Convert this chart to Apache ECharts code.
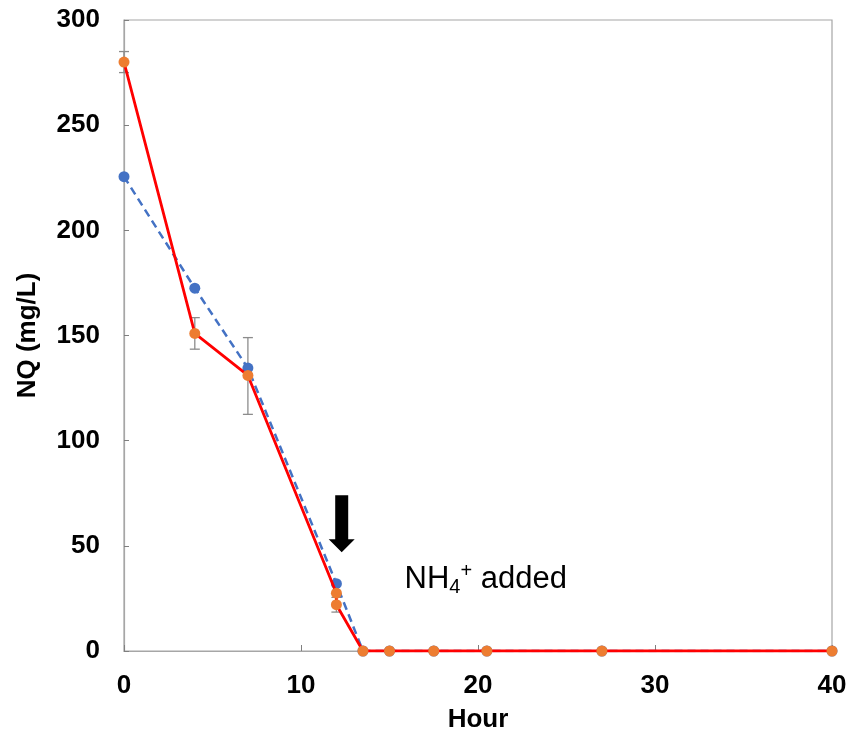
<!DOCTYPE html>
<html>
<head>
<meta charset="utf-8">
<script src="https://cdn.jsdelivr.net/npm/echarts@6/dist/echarts.min.js"></script>
<style>html,body{margin:0;padding:0;background:#fff}#c{width:850px;height:733px}</style>
</head>
<body>
<div id="c"></div>
<script>
// Data
const orangeHours = [0, 4, 7, 12, 12, 13.5, 15, 17.5, 20.5, 27, 40];
const orangeNQ    = [280, 151, 131, 27.5, 22, 0, 0, 0, 0, 0, 0];
const blueHours   = [0, 4, 7, 12, 13.5, 15, 17.5, 20.5, 27, 40];
const blueNQ      = [225.5, 172.5, 134.5, 32, 0, 0, 0, 0, 0, 0];
const errHours    = [0, 4, 7, 12];
const errLow      = [275, 143.5, 112.5, 18.5];
const errHigh     = [285, 158.5, 149, 25.5];
const xTicks      = [0, 10, 20, 30, 40];
const yTicks      = [0, 50, 100, 150, 200, 250, 300];
const arrowAt     = [12.3, 74, 47];   // hour, top value, tip value
const noteAt      = [15.85, 34];      // hour, value

const FONT = '"Liberation Sans", Arial, sans-serif';
const chart = echarts.init(document.getElementById('c'), null, {renderer: 'canvas'});

const zip = (a, b) => a.map((v, i) => [v, b[i]]);

chart.setOption({
  animation: false,
  backgroundColor: '#fff',
  grid: {left: 124, right: 18, top: 20, bottom: 82, show: true, borderColor: '#a6a6a6', borderWidth: 1.2,
         containLabel: false, outerBoundsMode: 'none'},
  xAxis: {
    type: 'value', min: 0, max: 40, interval: 10,
    name: 'Hour', nameLocation: 'middle', nameGap: 56,
    nameTextStyle: {fontFamily: FONT, fontWeight: 'bold', fontSize: 26, color: '#000'},
    axisLine: {show: true, lineStyle: {color: '#a6a6a6', width: 1.2}},
    axisTick: {show: true, inside: true, length: 6, lineStyle: {color: '#7f7f7f'}},
    axisLabel: {fontFamily: FONT, fontWeight: 'bold', fontSize: 26, color: '#000', margin: 22,
      formatter: v => xTicks.includes(v) ? String(v) : ''},
    splitLine: {show: false}
  },
  yAxis: {
    type: 'value', min: 0, max: 300, interval: 50,
    name: 'NQ (mg/L)', nameLocation: 'middle', nameGap: 83, nameRotate: 90,
    nameTextStyle: {fontFamily: FONT, fontWeight: 'bold', fontSize: 26, color: '#000'},
    axisLine: {show: true, lineStyle: {color: '#a6a6a6', width: 1.2}},
    axisTick: {show: true, inside: true, length: 5, lineStyle: {color: '#7f7f7f'}},
    axisLabel: {fontFamily: FONT, fontWeight: 'bold', fontSize: 26, color: '#000', margin: 24,
      formatter: v => yTicks.includes(v) ? String(v) : ''},
    splitLine: {show: false}
  },
  series: [
    {
      type: 'custom', z: 1,
      data: errHours.map((h, i) => [h, errLow[i], errHigh[i]]),
      renderItem: (params, api) => {
        const lo = api.coord([api.value(0), api.value(1)]);
        const hi = api.coord([api.value(0), api.value(2)]);
        const w = 5;
        const st = {stroke: '#8c8c8c', lineWidth: 1.3};
        return {type: 'group', children: [
          {type: 'line', shape: {x1: lo[0], y1: lo[1], x2: hi[0], y2: hi[1]}, style: st},
          {type: 'line', shape: {x1: lo[0] - w, y1: lo[1], x2: lo[0] + w, y2: lo[1]}, style: st},
          {type: 'line', shape: {x1: hi[0] - w, y1: hi[1], x2: hi[0] + w, y2: hi[1]}, style: st}
        ]};
      }
    },
    {
      type: 'line', z: 2, data: zip(blueHours, blueNQ),
      symbol: 'circle', symbolSize: 11,
      itemStyle: {color: '#4472C4'},
      lineStyle: {color: '#4472C4', width: 2.5, type: [8, 5]}
    },
    {
      type: 'line', z: 3, data: zip(orangeHours, orangeNQ),
      symbol: 'circle', symbolSize: 11,
      itemStyle: {color: '#ED7D31'},
      lineStyle: {color: '#FF0000', width: 2.8}
    },
    {
      type: 'custom', z: 4, data: [arrowAt],
      renderItem: (params, api) => {
        const top = api.coord([api.value(0), api.value(1)]);
        const tip = api.coord([api.value(0), api.value(2)]);
        const x = top[0], sw = 6.5, hw = 13, hh = 13;
        const neck = tip[1] - hh;
        return {type: 'polygon', shape: {points: [
          [x - sw, top[1]], [x + sw, top[1]], [x + sw, neck], [x + hw, neck],
          [x, tip[1]], [x - hw, neck], [x - sw, neck]
        ]}, style: {fill: '#000'}};
      }
    },
    {
      type: 'custom', z: 4, data: [noteAt],
      renderItem: (params, api) => {
        const p = api.coord([api.value(0), api.value(1)]);
        return {type: 'text', x: p[0], y: p[1], style: {
          text: '{n|NH}{s|4}{p|+}{n| added}',
          verticalAlign: 'middle', align: 'left',
          rich: {
            n: {fontFamily: FONT, fontSize: 31, color: '#111', verticalAlign: 'middle'},
            s: {fontFamily: FONT, fontSize: 20, color: '#111', padding: [16, 0, 0, 0]},
            p: {fontFamily: FONT, fontSize: 20, color: '#111', padding: [0, 0, 16, 0]}
          }
        }};
      }
    }
  ]
});
</script>
</body>
</html>
